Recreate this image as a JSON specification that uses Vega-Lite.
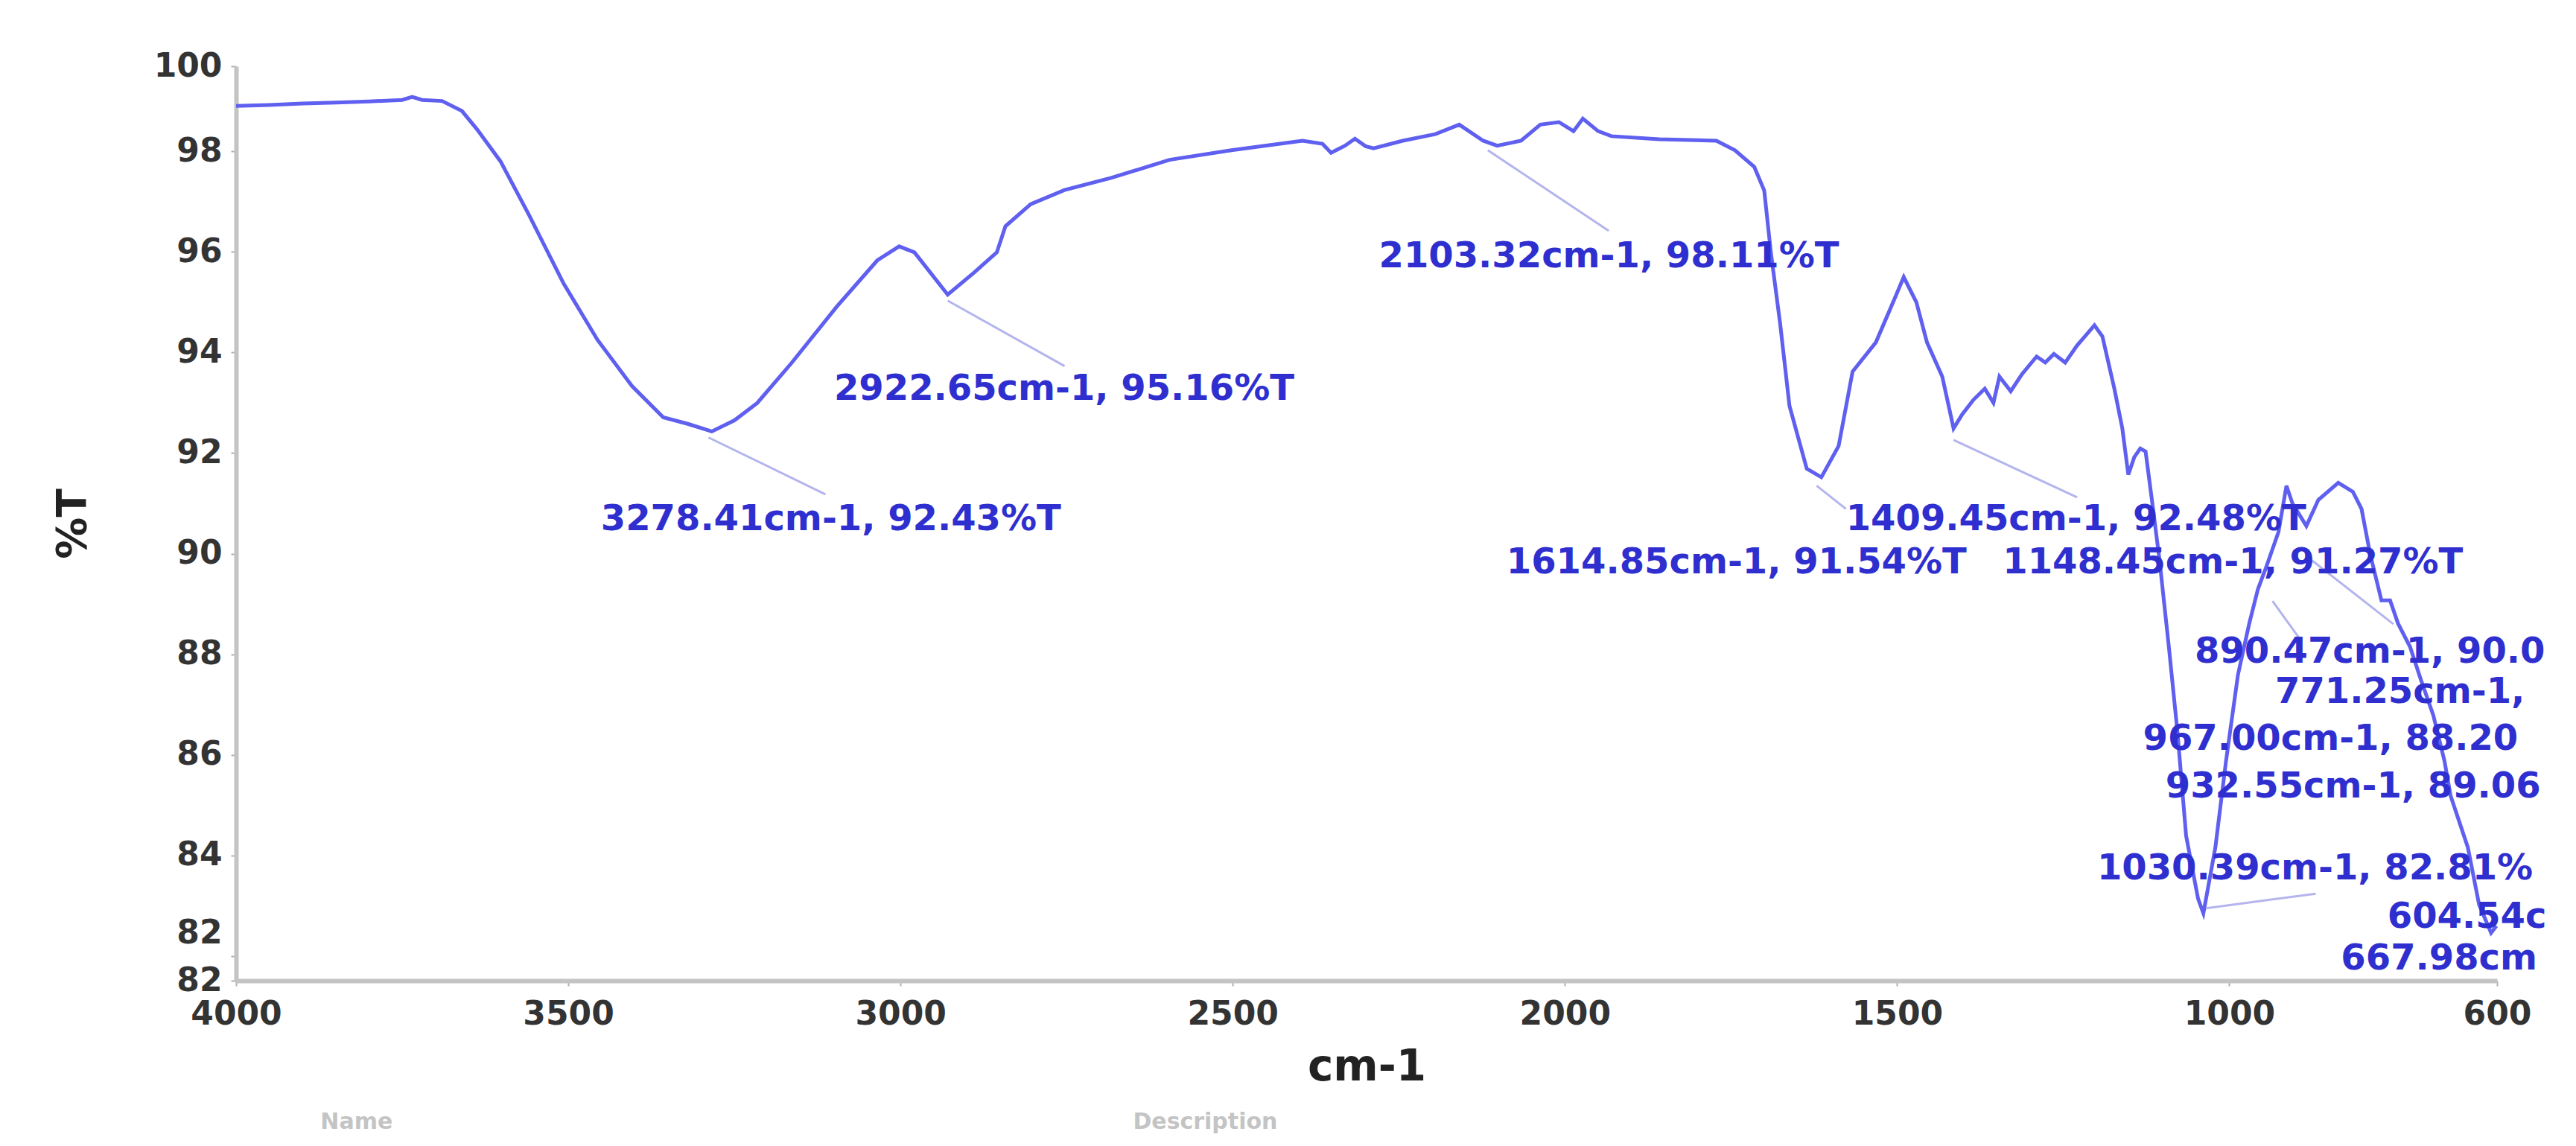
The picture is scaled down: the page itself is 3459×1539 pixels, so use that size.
{
  "$schema": "https://vega.github.io/schema/vega-lite/v6.json",
  "width": 3036,
  "height": 1228,
  "autosize": {"type": "none"},
  "padding": {"left": 317, "top": 89, "right": 106, "bottom": 222},
  "background": "white",
  "config": {"view": {"stroke": null}, "font": "DejaVu Sans"},
  "datasets": {
    "spectrum": [
      {"x": 4000, "y": 98.90}, {"x": 3950, "y": 98.92}, {"x": 3900, "y": 98.95}, {"x": 3850, "y": 98.97},
      {"x": 3800, "y": 98.99}, {"x": 3750, "y": 99.02}, {"x": 3735, "y": 99.08}, {"x": 3720, "y": 99.02},
      {"x": 3690, "y": 99.00}, {"x": 3660, "y": 98.80}, {"x": 3637, "y": 98.43}, {"x": 3602, "y": 97.80},
      {"x": 3559, "y": 96.73}, {"x": 3507, "y": 95.37}, {"x": 3456, "y": 94.25}, {"x": 3404, "y": 93.33},
      {"x": 3357, "y": 92.71}, {"x": 3320, "y": 92.58}, {"x": 3284, "y": 92.43}, {"x": 3250, "y": 92.65},
      {"x": 3216, "y": 92.99}, {"x": 3164, "y": 93.79}, {"x": 3096, "y": 94.91}, {"x": 3035, "y": 95.83},
      {"x": 3002, "y": 96.11}, {"x": 2979, "y": 95.99}, {"x": 2929, "y": 95.15}, {"x": 2889, "y": 95.59},
      {"x": 2855, "y": 95.99}, {"x": 2842, "y": 96.51}, {"x": 2804, "y": 96.95}, {"x": 2753, "y": 97.23},
      {"x": 2683, "y": 97.47}, {"x": 2595, "y": 97.83}, {"x": 2502, "y": 98.02}, {"x": 2395, "y": 98.21},
      {"x": 2365, "y": 98.15}, {"x": 2352, "y": 97.97}, {"x": 2340, "y": 98.05}, {"x": 2331, "y": 98.11},
      {"x": 2316, "y": 98.25}, {"x": 2300, "y": 98.10}, {"x": 2288, "y": 98.06}, {"x": 2244, "y": 98.21},
      {"x": 2195, "y": 98.34}, {"x": 2159, "y": 98.53}, {"x": 2123, "y": 98.21}, {"x": 2102, "y": 98.11},
      {"x": 2066, "y": 98.21}, {"x": 2037, "y": 98.53}, {"x": 2009, "y": 98.58}, {"x": 1987, "y": 98.40},
      {"x": 1973, "y": 98.65}, {"x": 1950, "y": 98.40}, {"x": 1930, "y": 98.30}, {"x": 1858, "y": 98.24},
      {"x": 1772, "y": 98.21}, {"x": 1744, "y": 98.02}, {"x": 1715, "y": 97.69}, {"x": 1700, "y": 97.22},
      {"x": 1690, "y": 95.99}, {"x": 1676, "y": 94.57}, {"x": 1662, "y": 92.94}, {"x": 1636, "y": 91.69},
      {"x": 1614, "y": 91.52}, {"x": 1588, "y": 92.14}, {"x": 1567, "y": 93.62}, {"x": 1532, "y": 94.20},
      {"x": 1506, "y": 95.00}, {"x": 1490, "y": 95.50}, {"x": 1471, "y": 95.00}, {"x": 1455, "y": 94.20},
      {"x": 1432, "y": 93.52}, {"x": 1415, "y": 92.49}, {"x": 1402, "y": 92.77}, {"x": 1385, "y": 93.06},
      {"x": 1368, "y": 93.28}, {"x": 1355, "y": 93.00}, {"x": 1346, "y": 93.52}, {"x": 1329, "y": 93.23},
      {"x": 1312, "y": 93.57}, {"x": 1290, "y": 93.92}, {"x": 1277, "y": 93.80}, {"x": 1264, "y": 93.97},
      {"x": 1247, "y": 93.80}, {"x": 1229, "y": 94.14}, {"x": 1203, "y": 94.54}, {"x": 1191, "y": 94.32},
      {"x": 1173, "y": 93.28}, {"x": 1161, "y": 92.49}, {"x": 1152, "y": 91.57}, {"x": 1143, "y": 91.92},
      {"x": 1134, "y": 92.09}, {"x": 1126, "y": 92.03}, {"x": 1117, "y": 91.12}, {"x": 1105, "y": 89.87},
      {"x": 1091, "y": 88.15}, {"x": 1078, "y": 86.45}, {"x": 1065, "y": 84.39}, {"x": 1047, "y": 83.14},
      {"x": 1039, "y": 82.85}, {"x": 1021, "y": 84.16}, {"x": 1005, "y": 85.87}, {"x": 987, "y": 87.59},
      {"x": 970, "y": 88.61}, {"x": 957, "y": 89.29}, {"x": 944, "y": 89.75}, {"x": 926, "y": 90.43},
      {"x": 914, "y": 91.35}, {"x": 905, "y": 91.00}, {"x": 884, "y": 90.55}, {"x": 866, "y": 91.07},
      {"x": 836, "y": 91.41}, {"x": 814, "y": 91.23}, {"x": 801, "y": 90.89}, {"x": 788, "y": 89.99},
      {"x": 771, "y": 89.07}, {"x": 758, "y": 89.07}, {"x": 746, "y": 88.61}, {"x": 728, "y": 88.15},
      {"x": 711, "y": 87.47}, {"x": 693, "y": 86.79}, {"x": 676, "y": 85.87}, {"x": 667, "y": 85.19},
      {"x": 641, "y": 84.16}, {"x": 624, "y": 83.02}, {"x": 606, "y": 82.46}, {"x": 598, "y": 82.60}
    ],
    "leaders": [
      {"x": 3289, "y": 92.31, "x2": 3113, "y2": 91.18},
      {"x": 2929, "y": 95.03, "x2": 2753, "y2": 93.73},
      {"x": 2116, "y": 98.02, "x2": 1934, "y2": 96.42},
      {"x": 1415, "y": 92.26, "x2": 1229, "y2": 91.12},
      {"x": 1621, "y": 91.35, "x2": 1577, "y2": 90.89},
      {"x": 1035, "y": 82.95, "x2": 870, "y2": 83.24},
      {"x": 875, "y": 89.86, "x2": 753, "y2": 88.60},
      {"x": 935, "y": 89.06, "x2": 892, "y2": 88.27}
    ],
    "labels": [
      {"x": 3451, "y": 90.68, "label": "3278.41cm-1, 92.43%T"},
      {"x": 3100, "y": 93.27, "label": "2922.65cm-1, 95.16%T"},
      {"x": 2280, "y": 95.90, "label": "2103.32cm-1, 98.11%T"},
      {"x": 1577, "y": 90.67, "label": "1409.45cm-1, 92.48%T"},
      {"x": 2088, "y": 89.81, "label": "1614.85cm-1, 91.54%T"},
      {"x": 1341, "y": 89.81, "label": "1148.45cm-1, 91.27%T"},
      {"x": 1052, "y": 88.04, "label": "890.47cm-1, 90.0"},
      {"x": 931, "y": 87.24, "label": "771.25cm-1,"},
      {"x": 1130, "y": 86.30, "label": "967.00cm-1, 88.20"},
      {"x": 1096, "y": 85.36, "label": "932.55cm-1, 89.06"},
      {"x": 1199, "y": 83.73, "label": "1030.39cm-1, 82.81%"},
      {"x": 762, "y": 82.77, "label": "604.54c"},
      {"x": 832, "y": 81.94, "label": "667.98cm"}
    ],
    "footer": [
      {"x": 3873, "y": 78.92, "label": "Name"},
      {"x": 2650, "y": 78.92, "label": "Description"}
    ]
  },
  "layer": [
    {
      "data": {"name": "spectrum"},
      "mark": {"type": "line", "color": "#5f5ff0", "strokeWidth": 5},
      "encoding": {
        "x": {
          "field": "x", "type": "quantitative",
          "scale": {"domain": [4000, 597], "nice": false, "zero": false},
          "axis": {
            "title": "cm-1",
            "values": [4000, 3500, 3000, 2500, 2000, 1500, 1000, 597],
            "labelExpr": "format(round(datum.value/100)*100, 'd')",
            "grid": false,
            "domainColor": "#c4c4c4", "domainWidth": 6,
            "tickColor": "#b0b0b0", "tickWidth": 2, "tickSize": 7,
            "labelFont": "DejaVu Sans", "labelFontWeight": "bold", "labelFontSize": 44,
            "labelColor": "#333333", "labelPadding": 16, "labelOverlap": false, "labelFlush": false,
            "titleFont": "DejaVu Sans", "titleFontWeight": "bold", "titleFontSize": 58,
            "titleColor": "#222222", "titlePadding": 20
          }
        },
        "y": {
          "field": "y", "type": "quantitative",
          "scale": {"domain": [81.51, 99.69], "nice": false, "zero": false},
          "axis": {
            "title": "%T",
            "values": [81.51, 82, 84, 86, 88, 90, 92, 94, 96, 98, 99.69],
            "labelExpr": "format(round(datum.value), 'd')",
            "labelOffset": {"condition": {"test": "datum.value == 82", "value": -30}, "value": 0},
            "grid": false,
            "domainColor": "#c4c4c4", "domainWidth": 6,
            "tickColor": "#b0b0b0", "tickWidth": 2, "tickSize": 7,
            "labelFont": "DejaVu Sans", "labelFontWeight": "bold", "labelFontSize": 44,
            "labelColor": "#333333", "labelPadding": 12, "labelOverlap": false, "labelFlush": false,
            "titleFont": "DejaVu Sans", "titleFontWeight": "bold", "titleFontSize": 56,
            "titleColor": "#222222", "titlePadding": 80
          }
        }
      }
    },
    {
      "data": {"name": "leaders"},
      "mark": {"type": "rule", "color": "#b4b4ee", "strokeWidth": 3},
      "encoding": {
        "x": {"field": "x", "type": "quantitative"},
        "y": {"field": "y", "type": "quantitative"},
        "x2": {"field": "x2"},
        "y2": {"field": "y2"}
      }
    },
    {
      "data": {"name": "labels"},
      "mark": {"type": "text", "align": "left", "baseline": "middle", "font": "DejaVu Sans", "fontWeight": "bold", "fontSize": 48, "color": "#2f2fd0"},
      "encoding": {
        "x": {"field": "x", "type": "quantitative"},
        "y": {"field": "y", "type": "quantitative"},
        "text": {"field": "label"}
      }
    },
    {
      "data": {"name": "footer"},
      "mark": {"type": "text", "align": "left", "baseline": "top", "font": "DejaVu Sans", "fontWeight": "bold", "fontSize": 30, "color": "#c4c4c4"},
      "encoding": {
        "x": {"field": "x", "type": "quantitative"},
        "y": {"field": "y", "type": "quantitative"},
        "text": {"field": "label"}
      }
    }
  ]
}
